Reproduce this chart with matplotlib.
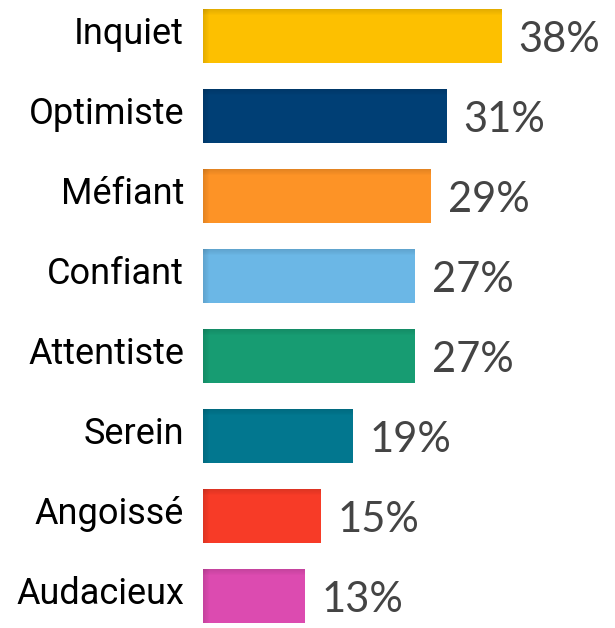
import numpy as np
import matplotlib
matplotlib.use('Agg')
import matplotlib.pyplot as plt

categories = ['Inquiet', 'Optimiste', 'Méfiant', 'Confiant',
              'Attentiste', 'Serein', 'Angoissé', 'Audacieux']
values = [38, 31, 29, 27, 27, 19, 15, 13]
colors = ['#FDC000', '#003F75', '#FD9326', '#6BB7E6',
          '#179C72', '#02778F', '#F73B27', '#DC4BB0']

fig = plt.figure(figsize=(6.15, 6.28), dpi=100)
ax = fig.add_axes([203 / 615, 0, 412 / 615, 1])

y = np.arange(len(categories))
bh = 0.675
ax.barh(y, values, height=bh, color=colors, edgecolor='none')

# soft shading along the top and left edge of each bar
for yi, v, c in zip(y, values, colors):
    for k in range(6):
        a = 0.10 * (1 - k / 6)
        ax.barh(yi - bh / 2 + k * 0.012 + 0.006, v, height=0.012,
                color='black', alpha=a, edgecolor='none')
        ax.barh(yi, 0.12, left=k * 0.12, height=bh,
                color='black', alpha=a, edgecolor='none')

for yi, v, lab in zip(y, values, categories):
    ax.text(-2.4, yi - 0.02, lab, ha='right', va='center', fontsize=26,
            family='Roboto', color='black')
    ax.text(v + 2.1, yi + 0.05, f'{v}%', ha='left', va='center',
            fontsize=30, family='Lato', color='#444444')

ax.set_xlim(0, 412 / 7.87)
ax.set_ylim(7.4, -0.45)
ax.axis('off')

fig.savefig('out.png', dpi=100)
